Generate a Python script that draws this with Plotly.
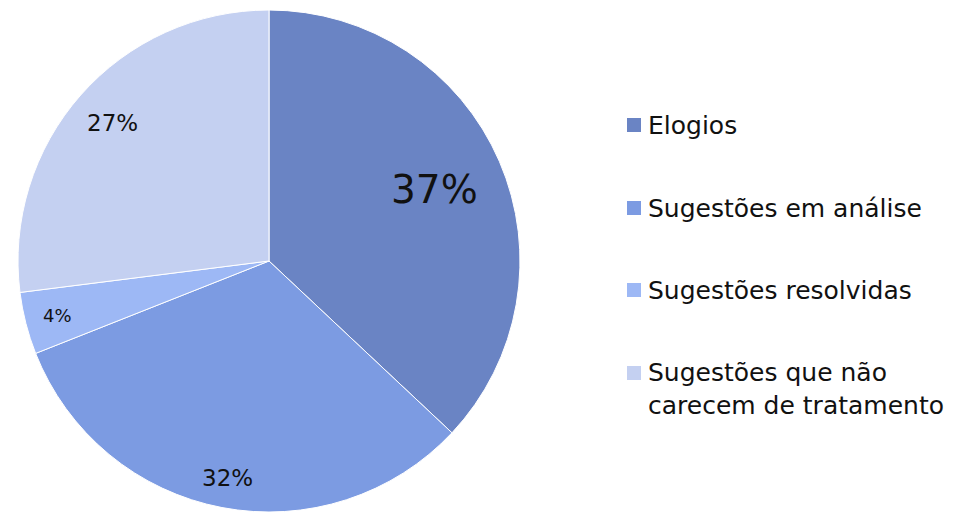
import math
import plotly.graph_objects as go

# Data
categories = ["Elogios", "Sugestões em análise", "Sugestões resolvidas",
              "Sugestões que não<br>carecem de tratamento"]
shares = [37, 32, 4, 27]
slice_colors = ["#6a84c4", "#7c9be2", "#9db8f5", "#c4d0f1"]

# Label styling per slice (font size and radial position as fraction of radius)
label_sizes = [39, 23, 18, 23]
label_radius = [0.72, 0.88, 0.87, 0.83]

W, H = 971, 512
M_TOP, M_BOT = 10, 0
PH = H - M_TOP - M_BOT
R = PH / 2
CX = 269
CY = M_TOP + R

fig = go.Figure(go.Pie(
    labels=categories,
    values=shares,
    sort=False,
    direction="clockwise",
    rotation=0,
    marker=dict(colors=slice_colors, line=dict(color="white", width=1)),
    textinfo="none",
    hoverinfo="label+percent",
    showlegend=False,
    domain=dict(x=[(CX - R) / W, (CX + R) / W], y=[0, 1]),
))

FONT = "DejaVu Sans, sans-serif"
annotations = []
shapes = []


def paper_y(py):
    return 1 - (py - M_TOP) / PH


# Percentage labels at each slice's mid-angle
total = sum(shares)
cum = 0
for v, fs, rf in zip(shares, label_sizes, label_radius):
    mid = (cum + v / 2) / total * 2 * math.pi
    cum += v
    px = CX + rf * R * math.sin(mid)
    py = CY - rf * R * math.cos(mid)
    annotations.append(dict(
        x=px / W, y=paper_y(py),
        xref="paper", yref="paper", showarrow=False,
        text=f"{round(v / total * 100)}%",
        font=dict(family=FONT, size=fs, color="#111111"),
        xanchor="center", yanchor="middle",
    ))

# Legend drawn as swatches + text
legend_rows = [125, 208, 290, 389]
for name, col, yc in zip(categories, slice_colors, legend_rows):
    sy = yc if "<br>" not in name else 373
    shapes.append(dict(
        type="rect", xref="paper", yref="paper",
        x0=627 / W, x1=641 / W,
        y0=paper_y(sy + 7), y1=paper_y(sy - 7),
        fillcolor=col, line=dict(width=0),
    ))
    annotations.append(dict(
        x=646 / W, y=paper_y(yc),
        xref="paper", yref="paper", showarrow=False,
        text=name, align="left",
        font=dict(family=FONT, size=25, color="#111111"),
        xanchor="left", yanchor="middle",
    ))

fig.update_layout(
    width=W, height=H,
    margin=dict(l=0, r=0, t=M_TOP, b=M_BOT),
    paper_bgcolor="white", plot_bgcolor="white",
    annotations=annotations, shapes=shapes,
)

fig.write_html("out.html")
